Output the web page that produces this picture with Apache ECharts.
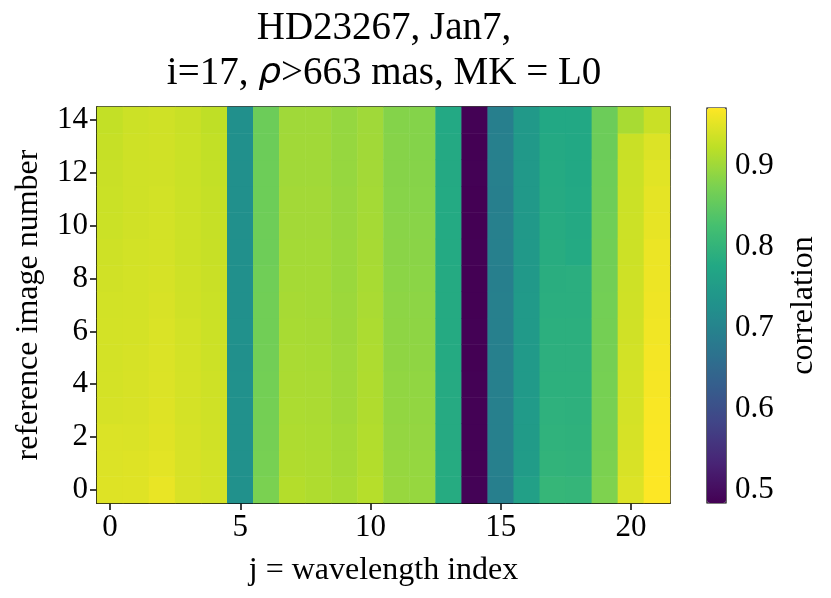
<!DOCTYPE html>
<html>
<head>
<meta charset="utf-8">
<script src="https://cdn.jsdelivr.net/npm/echarts@6/dist/echarts.min.js"></script>
<style>
  html, body { margin: 0; padding: 0; background: #fff; }
  #chart { width: 831px; height: 598px; }
</style>
</head>
<body>
<div id="chart"></div>
<script>
// j = wavelength index (x) and reference image number (y)
var wavelengthIdx = ['0','1','2','3','4','5','6','7','8','9','10','11','12','13','14','15','16','17','18','19','20','21'];
var refImage = ['0','1','2','3','4','5','6','7','8','9','10','11','12','13','14'];

// correlation per wavelength column, listed from reference image 0 up to 14
var corrByColumn = [
    [0.948,0.947,0.946,0.942,0.941,0.940,0.940,0.939,0.938,0.936,0.934,0.933,0.932,0.930,0.928],
    [0.949,0.948,0.945,0.944,0.943,0.942,0.941,0.940,0.940,0.939,0.938,0.937,0.937,0.936,0.935],
    [0.957,0.952,0.950,0.948,0.947,0.946,0.945,0.944,0.942,0.941,0.940,0.939,0.938,0.938,0.937],
    [0.944,0.943,0.942,0.941,0.941,0.940,0.939,0.937,0.936,0.935,0.935,0.934,0.933,0.933,0.932],
    [0.940,0.939,0.938,0.937,0.936,0.935,0.934,0.933,0.932,0.931,0.930,0.929,0.928,0.927,0.925],
    [0.729,0.729,0.728,0.728,0.728,0.727,0.728,0.727,0.727,0.727,0.727,0.726,0.727,0.726,0.726],
    [0.874,0.872,0.870,0.869,0.868,0.867,0.866,0.866,0.865,0.864,0.864,0.863,0.863,0.862,0.862],
    [0.917,0.914,0.912,0.911,0.910,0.909,0.908,0.907,0.906,0.905,0.904,0.904,0.903,0.903,0.902],
    [0.913,0.912,0.911,0.910,0.909,0.908,0.907,0.906,0.906,0.905,0.904,0.904,0.903,0.903,0.902],
    [0.908,0.906,0.905,0.903,0.902,0.901,0.900,0.899,0.898,0.898,0.897,0.896,0.895,0.895,0.894],
    [0.918,0.916,0.915,0.914,0.913,0.912,0.911,0.909,0.908,0.907,0.906,0.905,0.904,0.903,0.902],
    [0.896,0.895,0.893,0.892,0.891,0.890,0.889,0.888,0.887,0.886,0.885,0.884,0.883,0.883,0.882],
    [0.895,0.894,0.893,0.892,0.891,0.890,0.889,0.888,0.887,0.886,0.885,0.884,0.883,0.882,0.882],
    [0.783,0.783,0.782,0.782,0.782,0.781,0.781,0.781,0.781,0.780,0.780,0.780,0.779,0.779,0.778],
    [0.487,0.486,0.485,0.485,0.485,0.484,0.485,0.484,0.484,0.485,0.484,0.484,0.485,0.484,0.485],
    [0.693,0.694,0.694,0.695,0.694,0.694,0.695,0.694,0.693,0.694,0.694,0.693,0.694,0.694,0.693],
    [0.760,0.752,0.750,0.749,0.748,0.748,0.747,0.747,0.746,0.746,0.746,0.745,0.745,0.745,0.744],
    [0.806,0.800,0.797,0.795,0.793,0.792,0.791,0.790,0.788,0.786,0.784,0.782,0.781,0.779,0.777],
    [0.804,0.798,0.796,0.794,0.793,0.792,0.791,0.790,0.789,0.780,0.779,0.778,0.777,0.777,0.776],
    [0.877,0.875,0.873,0.872,0.871,0.870,0.869,0.868,0.867,0.866,0.865,0.864,0.863,0.862,0.862],
    [0.947,0.944,0.942,0.941,0.940,0.939,0.938,0.937,0.936,0.935,0.935,0.934,0.933,0.932,0.908],
    [0.972,0.971,0.970,0.969,0.967,0.965,0.963,0.961,0.960,0.959,0.955,0.954,0.951,0.947,0.932]
];

var colorbarTicks = [0.5, 0.6, 0.7, 0.8, 0.9];
var corrMin = 0.484, corrMax = 0.972;

var viridis = ['#440154','#482475','#414487','#355f8d','#2a788e','#21918c','#22a884','#44bf70','#7ad151','#bddf26','#fde725'];

var heatData = [];
corrByColumn.forEach(function (col, j) {
    col.forEach(function (v, i) {
        heatData.push([j, i, v]);
    });
});

var FONT = '"Liberation Serif", "Times New Roman", serif';
var chart = echarts.init(document.getElementById('chart'), null, {renderer: 'canvas'});

var option = {
    backgroundColor: '#fff',
    textStyle: {fontFamily: FONT, color: '#000'},
    animation: false,
    graphic: [
        {
            type: 'text', x: 384, y: 29,
            style: {text: 'HD23267, Jan7,', font: '39px ' + FONT, fill: '#000', align: 'center', verticalAlign: 'middle'}
        },
        {
            type: 'text', x: 384, y: 74,
            style: {
                text: '{n|i=17, }{it|ρ}{n|>663 mas, MK = L0}',
                align: 'center', verticalAlign: 'middle',
                rich: {
                    n: {fontFamily: FONT, fontSize: 39, fill: '#000'},
                    it: {fontFamily: '"DejaVu Sans"', fontStyle: 'italic', fontSize: 36, fill: '#000'}
                }
            }
        }
    ],
    grid: [
        {left: 97, top: 107, width: 573, height: 396, show: true, borderColor: '#000', borderWidth: 1.5, backgroundColor: 'transparent'},
        {left: 707, top: 108, width: 19, height: 395, show: true, borderColor: '#000', borderWidth: 1.2, backgroundColor: 'transparent'}
    ],
    xAxis: [
        {
            type: 'category', gridIndex: 0, data: wavelengthIdx,
            name: 'j = wavelength index', nameLocation: 'middle', nameGap: 52,
            nameTextStyle: {fontSize: 32, fontFamily: FONT, color: '#000'},
            axisLine: {show: true, lineStyle: {color: '#000', width: 1.5}},
            axisTick: {show: true, alignWithLabel: true, length: 7, lineStyle: {color: '#000', width: 1.5},
                interval: function (i) { return i % 5 === 0; }},
            axisLabel: {fontSize: 31, fontFamily: FONT, color: '#000', margin: 9,
                interval: function (i) { return i % 5 === 0; }},
            splitLine: {show: false}
        },
        {type: 'value', gridIndex: 1, show: false, min: 0, max: 1}
    ],
    yAxis: [
        {
            type: 'category', gridIndex: 0, data: refImage,
            name: 'reference image number', nameLocation: 'middle', nameGap: 52, nameRotate: 90,
            nameTextStyle: {fontSize: 32, fontFamily: FONT, color: '#000'},
            axisLine: {show: true, lineStyle: {color: '#000', width: 1.5}},
            axisTick: {show: true, alignWithLabel: true, length: 7, lineStyle: {color: '#000', width: 1.5},
                interval: function (i) { return i % 2 === 0; }},
            axisLabel: {fontSize: 31, fontFamily: FONT, color: '#000', margin: 9,
                interval: function (i) { return i % 2 === 0; }},
            splitLine: {show: false}
        },
        {
            type: 'value', gridIndex: 1, position: 'right', min: corrMin, max: corrMax,
            name: 'correlation', nameLocation: 'middle', nameGap: 62, nameRotate: 90,
            nameTextStyle: {fontSize: 32, fontFamily: FONT, color: '#000'},
            axisLine: {show: false},
            axisTick: {show: true, length: 7, lineStyle: {color: '#000', width: 1.2}, customValues: colorbarTicks},
            axisLabel: {fontSize: 31, fontFamily: FONT, color: '#000', margin: 9, customValues: colorbarTicks,
                formatter: function (v) { return v.toFixed(1); }},
            splitLine: {show: false}
        }
    ],
    visualMap: {
        type: 'continuous', min: corrMin, max: corrMax, seriesIndex: 0,
        calculable: false, realtime: false, hoverLink: false,
        orient: 'vertical', left: 707, top: 108, itemWidth: 19, itemHeight: 395, padding: 0,
        text: ['', ''], showLabel: false,
        inRange: {color: viridis}
    },
    series: [
        {
            type: 'heatmap', xAxisIndex: 0, yAxisIndex: 0, data: heatData,
            itemStyle: {borderWidth: 0},
            emphasis: {disabled: true}
        }
    ]
};

chart.setOption(option);
</script>
</body>
</html>
